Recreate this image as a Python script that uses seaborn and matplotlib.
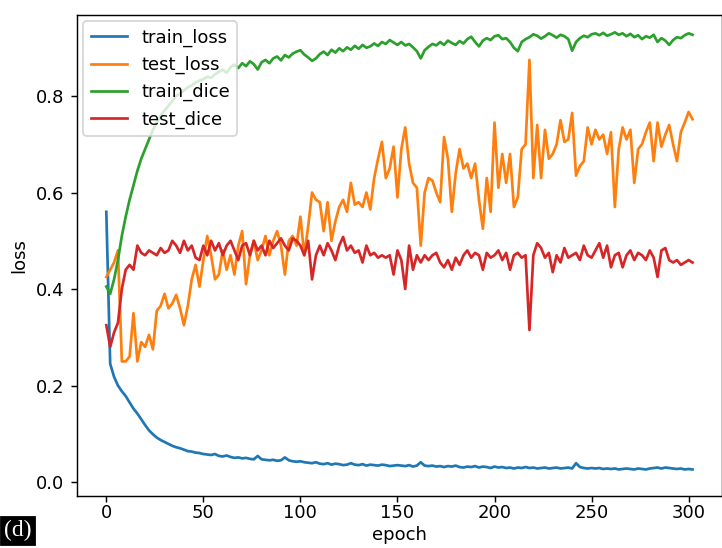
import numpy as np
import pandas as pd
import matplotlib
matplotlib.use("Agg")
import matplotlib.pyplot as plt
import seaborn as sns

# epochs (every second epoch)
epochs = np.arange(0, 304, 2)

train_loss = [
    0.56, 0.245, 0.218, 0.200, 0.188, 0.178, 0.165, 0.152, 0.142, 0.130,
    0.118, 0.107, 0.099, 0.092, 0.087, 0.083, 0.079, 0.075, 0.072, 0.070,
    0.067, 0.064, 0.063, 0.061, 0.060, 0.058, 0.057, 0.056, 0.058, 0.054,
    0.053, 0.055, 0.052, 0.050, 0.051, 0.049, 0.050, 0.048, 0.047, 0.054,
    0.047, 0.046, 0.045, 0.046, 0.044, 0.045, 0.051, 0.045, 0.043, 0.042,
    0.043,
    0.041, 0.040, 0.039, 0.041, 0.038, 0.037, 0.039, 0.036, 0.038, 0.037,
    0.035, 0.036, 0.039, 0.036, 0.035, 0.037, 0.034, 0.036, 0.035, 0.034,
    0.036, 0.035, 0.033, 0.034, 0.035,
    0.034, 0.033, 0.035, 0.032, 0.034, 0.041, 0.034, 0.033, 0.034, 0.032,
    0.033, 0.031, 0.033, 0.032, 0.034, 0.031, 0.030, 0.032, 0.031, 0.033,
    0.030, 0.032, 0.031, 0.029, 0.032,
    0.030, 0.031, 0.029, 0.030, 0.028, 0.030, 0.029, 0.031, 0.029, 0.030,
    0.028, 0.029, 0.030, 0.028, 0.029, 0.030, 0.028, 0.029, 0.030, 0.028,
    0.039, 0.031, 0.029, 0.028, 0.029,
    0.028, 0.029, 0.027, 0.028, 0.027, 0.028, 0.026, 0.027, 0.028, 0.027,
    0.026, 0.028, 0.027, 0.026, 0.028, 0.029, 0.030, 0.028, 0.030, 0.029,
    0.028, 0.027, 0.028, 0.026, 0.027, 0.026,
]

test_loss = [
    0.425, 0.44, 0.455, 0.48, 0.25, 0.25, 0.26, 0.35, 0.25, 0.29,
    0.28, 0.305, 0.275, 0.355, 0.365, 0.39, 0.36, 0.37, 0.388, 0.36,
    0.325, 0.365, 0.42, 0.45, 0.405, 0.46, 0.51, 0.47, 0.42, 0.43,
    0.48, 0.44, 0.47, 0.43, 0.49, 0.52, 0.41, 0.47, 0.50, 0.46,
    0.48, 0.51, 0.47, 0.50, 0.52, 0.49, 0.43, 0.50, 0.51, 0.49,
    0.55,
    0.47, 0.53, 0.60, 0.585, 0.58, 0.52, 0.58, 0.50, 0.54, 0.57,
    0.585, 0.56, 0.62, 0.575, 0.58, 0.57, 0.60, 0.565, 0.63, 0.67,
    0.705, 0.63, 0.65, 0.695, 0.59,
    0.69, 0.735, 0.66, 0.62, 0.61, 0.49, 0.60, 0.63, 0.625, 0.60,
    0.58, 0.715, 0.67, 0.56, 0.64, 0.69, 0.65, 0.66, 0.63, 0.66,
    0.585, 0.525, 0.63, 0.56, 0.745,
    0.61, 0.68, 0.62, 0.68, 0.57, 0.59, 0.69, 0.70, 0.875, 0.63,
    0.74, 0.63, 0.73, 0.67, 0.68, 0.70, 0.75, 0.705, 0.71, 0.765,
    0.635, 0.655, 0.665, 0.735, 0.70,
    0.73, 0.71, 0.72, 0.68, 0.725, 0.57, 0.69, 0.735, 0.71, 0.73,
    0.62, 0.69, 0.70, 0.725, 0.745, 0.665, 0.745, 0.695, 0.72, 0.74,
    0.70, 0.665, 0.725, 0.745, 0.767, 0.752,
]

train_dice = [
    0.405, 0.39, 0.42, 0.46, 0.51, 0.55, 0.585, 0.615, 0.645, 0.67,
    0.69, 0.71, 0.73, 0.745, 0.76, 0.77, 0.78, 0.79, 0.80, 0.805,
    0.812, 0.818, 0.822, 0.828, 0.832, 0.835, 0.84, 0.838, 0.845, 0.85,
    0.855, 0.848, 0.86, 0.865, 0.858, 0.868, 0.862, 0.872, 0.866, 0.855,
    0.87, 0.875, 0.868, 0.878, 0.882, 0.874, 0.885, 0.88, 0.888, 0.892,
    0.895,
    0.886, 0.880, 0.873, 0.878, 0.887, 0.892, 0.885, 0.896, 0.890, 0.899,
    0.893, 0.901, 0.896, 0.904, 0.898, 0.906, 0.900, 0.903, 0.909, 0.904,
    0.912, 0.908, 0.916, 0.911, 0.906,
    0.912, 0.905, 0.908, 0.901, 0.893, 0.878, 0.895, 0.902, 0.908, 0.905,
    0.912, 0.906, 0.915, 0.910, 0.906, 0.914, 0.909, 0.918, 0.923, 0.912,
    0.903, 0.915, 0.920, 0.916, 0.924,
    0.926, 0.918, 0.920, 0.912, 0.900, 0.893, 0.912, 0.918, 0.922, 0.928,
    0.925, 0.919, 0.924, 0.930, 0.926, 0.921, 0.927, 0.924, 0.918, 0.894,
    0.912, 0.920, 0.925, 0.922, 0.928,
    0.930, 0.926, 0.931, 0.925, 0.928, 0.932, 0.927, 0.930, 0.924, 0.929,
    0.922, 0.926, 0.918, 0.924, 0.921, 0.927, 0.912, 0.920, 0.915, 0.906,
    0.916, 0.922, 0.920, 0.926, 0.930, 0.927,
]

test_dice = [
    0.325, 0.28, 0.31, 0.33, 0.40, 0.44, 0.45, 0.44, 0.49, 0.475,
    0.47, 0.48, 0.475, 0.47, 0.485, 0.475, 0.48, 0.50, 0.49, 0.475,
    0.50, 0.48, 0.49, 0.465, 0.46, 0.49, 0.47, 0.50, 0.48, 0.495,
    0.47, 0.49, 0.50, 0.48, 0.46, 0.49, 0.495, 0.47, 0.50, 0.48,
    0.49, 0.47, 0.50, 0.485, 0.495, 0.505, 0.49, 0.48, 0.505, 0.50,
    0.49,
    0.47, 0.50, 0.42, 0.47, 0.49, 0.47, 0.495, 0.48, 0.46, 0.49,
    0.508, 0.48, 0.49, 0.475, 0.48, 0.455, 0.49, 0.47, 0.475, 0.465,
    0.47, 0.465, 0.47, 0.43, 0.48,
    0.46, 0.40, 0.49, 0.44, 0.47, 0.455, 0.47, 0.46, 0.47, 0.475,
    0.455, 0.445, 0.46, 0.44, 0.465, 0.45, 0.47, 0.48, 0.465, 0.475,
    0.47, 0.44, 0.475, 0.465, 0.47,
    0.48, 0.46, 0.475, 0.44, 0.47, 0.475, 0.465, 0.47, 0.315, 0.47,
    0.495, 0.485, 0.465, 0.475, 0.435, 0.47, 0.455, 0.485, 0.465, 0.47,
    0.475, 0.46, 0.49, 0.47, 0.465,
    0.48, 0.495, 0.465, 0.49, 0.445, 0.47, 0.475, 0.445, 0.47, 0.48,
    0.46, 0.475, 0.47, 0.46, 0.48, 0.465, 0.425, 0.48, 0.485, 0.46,
    0.455, 0.46, 0.45, 0.455, 0.46, 0.455,
]

series = {
    "train_loss": train_loss,
    "test_loss": test_loss,
    "train_dice": train_dice,
    "test_dice": test_dice,
}

fig = plt.figure(figsize=(722 / 130, 548 / 130), dpi=130)
ax = fig.add_axes([77 / 722, 52 / 548, 644.8 / 722, 481 / 548])

for name, vals in series.items():
    sns.lineplot(x=epochs, y=vals, label=name, ax=ax, linewidth=1.5)

ax.set_xlim(-15.1, 317.1)
ax.set_ylim(-0.029, 0.968)
ax.set_xlabel("epoch", labelpad=2)
ax.set_ylabel("loss")
ax.tick_params(axis="x", pad=1.0)
ax.legend(loc="upper left", borderaxespad=0.35)

# panel tag in the lower left corner
fig.text(0.006, 0.012, "(d)", color="white", fontsize=13,
         family=["Liberation Serif", "DejaVu Serif"], ha="left", va="bottom",
         bbox=dict(facecolor="black", edgecolor="black", pad=2))

fig.savefig("out.png", dpi=130)
